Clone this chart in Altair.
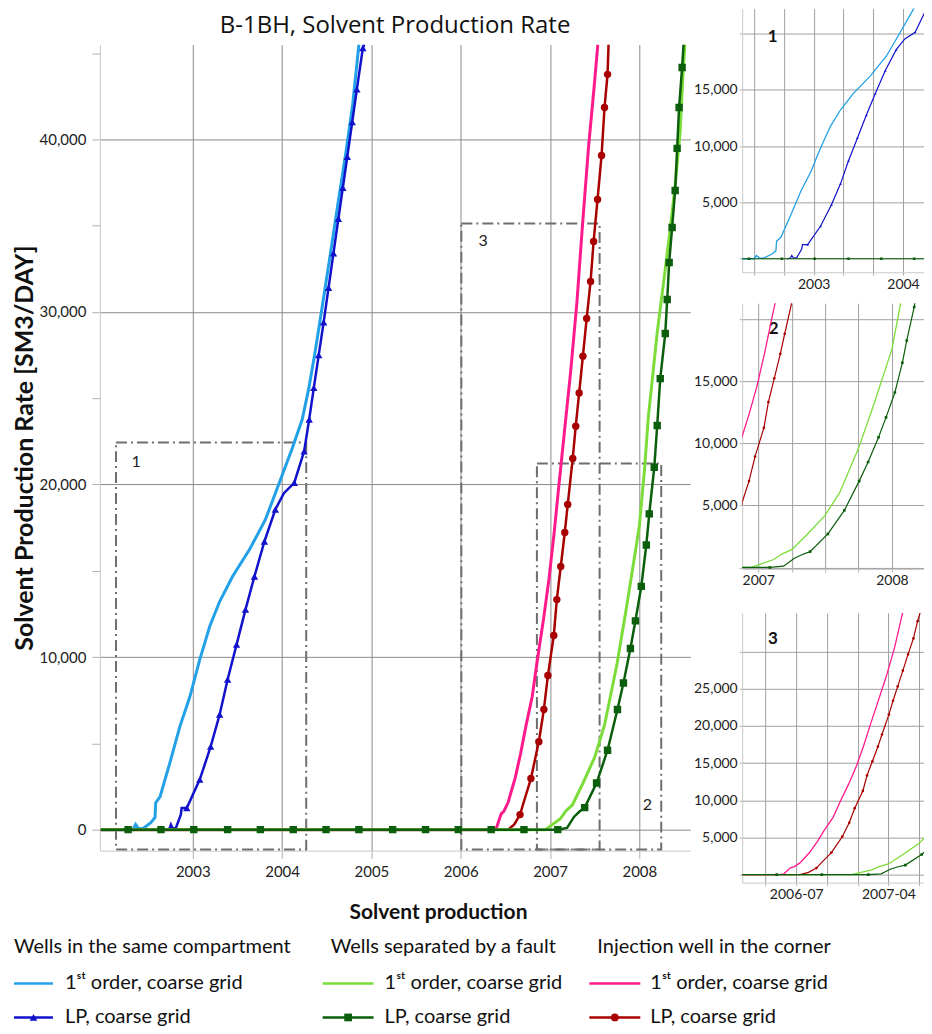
import altair as alt
import pandas as pd

# ---------------- data (time in fractional years, rate in SM3/DAY) ----------------
same_1st_t = [2001.97, 2002.33, 2002.36, 2002.39, 2002.44, 2002.53, 2002.577, 2002.585, 2002.633,
              2002.744, 2002.855, 2002.967, 2003.078, 2003.189, 2003.301, 2003.445, 2003.635,
              2003.813, 2003.969, 2004.114, 2004.225, 2004.30, 2004.37, 2004.44, 2004.53, 2004.62,
              2004.71, 2004.79, 2004.86]
same_1st_v = [0, 0, 300, 80, 60, 400, 700, 1560, 1900,
              3880, 5970, 7700, 9850, 11770, 13220, 14670, 16230,
              17970, 20100, 22100, 23770, 25600, 27700, 30000, 33000, 36100,
              39100, 42000, 45500]

same_lp_t = [2002.70, 2002.74, 2002.755, 2002.775, 2002.811, 2002.866, 2002.875, 2002.933, 2003.078,
             2003.200, 2003.301, 2003.390, 2003.490, 2003.590, 2003.690, 2003.802, 2003.924,
             2004.020, 2004.136, 2004.247, 2004.303, 2004.355, 2004.41, 2004.465, 2004.52,
             2004.575, 2004.63, 2004.68, 2004.73, 2004.785, 2004.837, 2004.904, 2004.92]
same_lp_v = [0, 60, 290, 60, 100, 870, 1250, 1250, 2900,
             4810, 6670, 8700, 10720, 12750, 14670, 16700, 18550,
             19500, 20100, 21930, 23770, 25600, 27500, 29400, 31400,
             33400, 35400, 37200, 39000, 41000, 42900, 45300, 45500]
same_lp_m = [0, 0, 0, 0, 0, 0, 0, 1, 1,
             1, 1, 1, 1, 1, 1, 1, 1,
             0, 1, 1, 1, 1, 1, 1, 1,
             1, 1, 1, 1, 1, 1, 1, 0]

fault_1st_t = [2001.97, 2006.95, 2007.0, 2007.116, 2007.18, 2007.25, 2007.36, 2007.5, 2007.61,
               2007.75, 2007.86, 2007.95, 2008.0, 2008.06, 2008.10, 2008.20, 2008.28, 2008.345,
               2008.40, 2008.456, 2008.49, 2008.51]
fault_1st_v = [0, 0, 200, 640, 1100, 1430, 2600, 4200, 6050,
               9600, 13000, 15950, 17600, 21000, 23880, 28800, 32060, 34780,
               37280, 40400, 43900, 45500]

fault_lp_t = [2001.97, 2002.276, 2002.644, 2003.011, 2003.390, 2003.757, 2004.125, 2004.492,
              2004.860, 2005.238, 2005.606, 2005.973, 2006.341, 2006.708, 2007.087,
              2007.19, 2007.27, 2007.33,
              2007.388, 2007.521, 2007.644, 2007.755, 2007.822, 2007.900, 2007.956, 2008.022,
              2008.078, 2008.111, 2008.167, 2008.200, 2008.234, 2008.290, 2008.312, 2008.334,
              2008.367, 2008.401, 2008.423, 2008.445, 2008.479, 2008.495]
fault_lp_v = [0, 0, 0, 0, 0, 0, 0, 0,
              0, 0, 0, 0, 0, 0, 0,
              100, 750, 1050,
              1275, 2700, 4600, 6960, 8500, 10500, 12100, 14100,
              16500, 18300, 21000, 23420, 26140, 28750, 30720, 32870,
              34900, 37040, 39480, 41850, 44170, 45500]
fault_lp_m = [0, 1, 1, 1, 1, 1, 1, 1,
              1, 1, 1, 1, 1, 1, 1,
              0, 0, 0,
              1, 1, 1, 1, 1, 1, 1, 1,
              1, 1, 1, 1, 1, 1, 1, 1,
              1, 1, 1, 1, 1, 0]

corner_1st_t = [2001.97, 2006.36, 2006.40, 2006.452, 2006.485, 2006.53, 2006.61, 2006.67, 2006.73,
                2006.80, 2006.86, 2006.93, 2006.99, 2007.05, 2007.10, 2007.16, 2007.23, 2007.30,
                2007.36, 2007.43, 2007.50, 2007.535]
corner_1st_v = [0, 0, 100, 900, 1080, 1570, 3000, 4400, 6000,
                7700, 9900, 12300, 14600, 17400, 20000, 23000, 26500, 30500,
                34800, 39500, 43400, 45500]

corner_lp_t = [2001.97, 2006.53, 2006.60, 2006.664, 2006.70, 2006.786, 2006.875, 2006.931, 2006.976,
               2007.042, 2007.076, 2007.120, 2007.165, 2007.198, 2007.254, 2007.288, 2007.326,
               2007.368, 2007.410, 2007.454, 2007.488, 2007.532, 2007.577, 2007.610, 2007.644, 2007.655]
corner_lp_v = [0, 0, 300, 870, 1500, 2960, 5100, 6960, 8930,
               11250, 13330, 15250, 17220, 18840, 21510, 23380, 25310,
               27440, 29620, 31770, 34090, 36520, 39070, 41850, 43770, 45500]
corner_lp_m = [0, 0, 0, 1, 0, 1, 1, 1, 1,
               1, 1, 1, 1, 1, 1, 1, 1,
               1, 1, 1, 1, 1, 1, 1, 1, 0]

box_id = ["1", "2", "3"]
box_x1 = [2002.14, 2006.853, 2006.007]
box_x2 = [2004.27, 2008.245, 2007.555]
box_y1 = [-1150, -1150, -1150]
box_y2 = [22430, 21220, 35130]
box_lab_x = [2002.365, 2008.09, 2006.25]
box_lab_y = [21330, 1450, 34090]

chart_title = "B-1BH, Solvent Production Rate"
x_title = "Solvent production"
legend_headers = ["Wells in the same compartment", "Wells separated by a fault", "Injection well in the corner"]
legend_items = ["1\u02e2\u1d57 order, coarse grid", "LP, coarse grid"]

# ---------------- styling ----------------
COL = {
    "same_1st": "#22A0E8", "same_lp": "#1212CC",
    "fault_1st": "#7CDD3A", "fault_lp": "#0B5E0B",
    "corner_1st": "#FF1A8C", "corner_lp": "#A80000",
}
SHAPE = {"same_lp": "triangle-up", "fault_lp": "square", "corner_lp": "circle"}
FONT = "Lato"


def sdf(name, t, v, m=None):
    return pd.DataFrame({"series": name, "t": t, "v": v, "m": m if m is not None else [0] * len(t)})


data = pd.concat([
    sdf("same_1st", same_1st_t, same_1st_v),
    sdf("same_lp", same_lp_t, same_lp_v, same_lp_m),
    sdf("corner_1st", corner_1st_t, corner_1st_v),
    sdf("corner_lp", corner_lp_t, corner_lp_v, corner_lp_m),
    sdf("fault_1st", fault_1st_t, fault_1st_v),
    sdf("fault_lp", fault_lp_t, fault_lp_v, fault_lp_m),
], ignore_index=True)
DRAW_ORDER = ["same_1st", "same_lp", "corner_1st", "corner_lp", "fault_1st", "fault_lp"]

boxes = pd.DataFrame({"id": box_id, "x1": box_x1, "x2": box_x2, "y1": box_y1, "y2": box_y2,
                      "lx": box_lab_x, "ly": box_lab_y})


def visible_part(xdom, ydom):
    """Keep the points inside a view window plus their direct neighbours."""
    parts = []
    for name, g in data.groupby("series", sort=False):
        g = g.sort_values("t")
        inside = g.t.between(*xdom) & g.v.between(*ydom)
        keep = inside | inside.shift(1, fill_value=False) | inside.shift(-1, fill_value=False)
        parts.append(g[keep])
    return pd.concat(parts, ignore_index=True)


def panel(df, xdom, ydom, w, h, xaxis, yaxis, lw1, lwlp, msize, extra=None):
    xs = alt.Scale(domain=xdom, nice=False, zero=False)
    ys = alt.Scale(domain=ydom, nice=False, zero=False)
    X = alt.X("t:Q", scale=xs, axis=xaxis)
    Y = alt.Y("v:Q", scale=ys, axis=yaxis)
    layers = []
    if extra is not None:
        layers += extra(xs, ys, xaxis, yaxis)
    base = alt.Chart(df)
    for name in DRAW_ORDER:
        is_lp = name in SHAPE
        layers.append(
            base.transform_filter(alt.datum.series == name)
            .mark_line(color=COL[name], strokeWidth=lwlp if is_lp else lw1, clip=True)
            .encode(x=X, y=Y)
        )
        if is_lp:
            layers.append(
                base.transform_filter((alt.datum.series == name) & (alt.datum.m == 1))
                .mark_point(shape=SHAPE[name], filled=True, color=COL[name], size=msize,
                            opacity=1, clip=True)
                .encode(x=X, y=Y)
            )
    return alt.layer(*layers).properties(width=w, height=h)


# ---------------- main chart ----------------
MW, MH = 591, 807
main_xaxis = alt.Axis(values=[2003, 2004, 2005, 2006, 2007, 2008], format="d", title=None,
                      labelFontSize=15, labelPadding=6, tickSize=8,
                      grid=True, gridColor="#8a8a8a", domainColor="#c8c8c8", tickColor="#b0b0b0",
                      labelColor="#222")
main_yaxis = alt.Axis(values=[0, 5000, 10000, 15000, 20000, 25000, 30000, 35000, 40000, 45000],
                      labelExpr="datum.value % 10000 === 0 ? format(datum.value, ',') : ''",
                      gridOpacity={"condition": {"test": "datum.value % 10000 === 0", "value": 1}, "value": 0},
                      title="Solvent Production Rate [SM3/DAY]", titleFontSize=25,
                      titleFontWeight="bold", titlePadding=2, labelFontSize=15, labelPadding=6,
                      tickSize=8, grid=True, gridColor="#8a8a8a", domainColor="#c8c8c8",
                      tickColor="#b0b0b0", labelColor="#222", titleColor="#111")


def main_boxes(xs, ys, xaxis, yaxis):
    rect = alt.Chart(boxes).mark_rect(fillOpacity=0, stroke="#6e6e6e", strokeWidth=2,
                                      strokeDash=[11, 4, 2, 4]).encode(
        x=alt.X("x1:Q", scale=xs, axis=xaxis), x2="x2:Q",
        y=alt.Y("y1:Q", scale=ys, axis=yaxis), y2="y2:Q")
    lab = alt.Chart(boxes).mark_text(font=FONT, fontSize=16, color="#222").encode(
        x=alt.X("lx:Q", scale=xs, axis=xaxis), y=alt.Y("ly:Q", scale=ys, axis=yaxis),
        text="id:N")
    return [rect, lab]


main = panel(data, [2001.96, 2008.57], [-1217, 45500], MW, MH, main_xaxis, main_yaxis,
             3, 2.5, 55, extra=main_boxes)

# title strip above the main plot
title_strip = alt.Chart(pd.DataFrame({"x": [0.5], "y": [0.5], "text": [chart_title]})).mark_text(
    font="Open Sans", fontSize=24, color="#111", baseline="middle").encode(
    x=alt.X("x:Q", scale=alt.Scale(domain=[0, 1]), axis=None),
    y=alt.Y("y:Q", scale=alt.Scale(domain=[0, 1]), axis=None),
    text="text:N").properties(width=MW, height=34)


# ---------------- insets ----------------
def inset_axes(xvals, xlabel_expr, yvals, ytop):
    xa = alt.Axis(values=xvals, labelExpr=xlabel_expr, title=None, labelFontSize=14,
                  labelPadding=2, tickSize=3, grid=True, gridColor="#a0a0a0",
                  domainColor="#c8c8c8", tickColor="#b0b0b0", labelColor="#222",
                  labelOverlap=False)
    ya = alt.Axis(values=yvals,
                  labelExpr=f"datum.value > 0 && datum.value < {ytop} ? format(datum.value, ',') : ''",
                  title=None, labelFontSize=14, labelPadding=2, tickSize=3, grid=True,
                  gridColor="#a0a0a0", domainColor="#c8c8c8", tickColor="#b0b0b0",
                  labelColor="#222")
    return xa, ya


def inset_tag(label, lx, ly):
    tag = pd.DataFrame({"t": [lx], "v": [ly], "txt": [label]})

    def f(xs, ys, xaxis, yaxis):
        return [alt.Chart(tag).mark_text(font=FONT, fontSize=17, fontWeight="bold", color="#111")
                .encode(x=alt.X("t:Q", scale=xs, axis=xaxis), y=alt.Y("v:Q", scale=ys, axis=yaxis),
                        text="txt:N")]
    return f


IW = 182
d1x, d1y = [2002.20, 2004.235], [-1200, 22200]
xa1, ya1 = inset_axes([2002.3333, 2002.6667, 2003, 2003.3333, 2003.6667, 2004],
                      "datum.value % 1 === 0 ? format(datum.value, 'd') : ''",
                      [0, 5000, 10000, 15000, 20000], 20000)
inset1 = panel(visible_part(d1x, d1y), d1x, d1y, IW, 264, xa1, ya1, 1.3, 1.2, 7,
               extra=inset_tag("1", 2002.54, 19650))

d2x, d2y = [2006.88, 2008.24], [-120, 21300]
xa2, ya2 = inset_axes([2007.0, 2007.25, 2007.5, 2007.75, 2008.0],
                      "datum.value % 1 === 0 ? format(datum.value, 'd') : ''",
                      [0, 5000, 10000, 15000, 20000], 20000)
inset2 = panel(visible_part(d2x, d2y), d2x, d2y, IW, 266, xa2, ya2, 1.3, 1.2, 7,
               extra=inset_tag("2", 2007.116, 19200))

d3x, d3y = [2006.06, 2007.54], [-1080, 35200]
xa3, ya3 = inset_axes([2006.25, 2006.5, 2006.75, 2007.0, 2007.25, 2007.5],
                      "datum.value === 2006.5 ? '2006-07' : (datum.value === 2007.25 ? '2007-04' : '')",
                      [0, 5000, 10000, 15000, 20000, 25000, 30000], 30000)
inset3 = panel(visible_part(d3x, d3y), d3x, d3y, IW, 270, xa3, ya3, 1.3, 1.2, 7,
               extra=inset_tag("3", 2006.31, 31700))

# ---------------- legend (x measured from the main plot's left edge) ----------------
LINE_START = [-86, 223, 490]
LINE_END = [-47, 274, 541]
HEAD_X = [-86, 231, 498]
TEXT_X = [-35, 285, 551]
XTITLE_POS = (339, 6)
ROW_Y = [40, 77, 111]
groups = [("same_1st", "same_lp"), ("fault_1st", "fault_lp"), ("corner_1st", "corner_lp")]

head_df = pd.DataFrame({"x": HEAD_X, "y": [ROW_Y[0]] * 3, "text": legend_headers})
xt_df = pd.DataFrame({"x": [XTITLE_POS[0]], "y": [XTITLE_POS[1]], "text": [x_title]})
rows = []
for i, (s1, s2) in enumerate(groups):
    for r, s in enumerate((s1, s2)):
        rows.append({"x1": LINE_START[i], "x2": LINE_END[i], "xm": (LINE_START[i] + LINE_END[i]) / 2,
                     "xt": TEXT_X[i], "y": ROW_Y[r + 1], "color": COL[s],
                     "shape": SHAPE.get(s, "circle"), "text": legend_items[r], "lp": r})
item_df = pd.DataFrame(rows)

LX = alt.Scale(domain=[0, MW], nice=False, zero=False)
LY = alt.Scale(domain=[0, 118], reverse=True, nice=False, zero=False)
leg_xt = alt.Chart(xt_df).mark_text(font=FONT, fontSize=21, fontWeight="bold", baseline="middle",
                                    color="#111").encode(
    x=alt.X("x:Q", scale=LX, axis=None), y=alt.Y("y:Q", scale=LY, axis=None), text="text:N")
leg_head = alt.Chart(head_df).mark_text(font=FONT, fontSize=20, align="left", baseline="middle",
                                        color="#111").encode(
    x=alt.X("x:Q", scale=LX, axis=None), y=alt.Y("y:Q", scale=LY, axis=None), text="text:N")
leg_line = alt.Chart(item_df).mark_rule(strokeWidth=2.5).encode(
    x=alt.X("x1:Q", scale=LX, axis=None), x2="x2:Q", y=alt.Y("y:Q", scale=LY, axis=None),
    color=alt.Color("color:N", scale=None))
leg_pt = alt.Chart(item_df).transform_filter(alt.datum.lp == 1).mark_point(
    filled=True, size=60, opacity=1).encode(
    x=alt.X("xm:Q", scale=LX, axis=None), y=alt.Y("y:Q", scale=LY, axis=None),
    color=alt.Color("color:N", scale=None), shape=alt.Shape("shape:N", scale=None))
leg_txt = alt.Chart(item_df).mark_text(font=FONT, fontSize=20, align="left", baseline="middle",
                                       color="#111").encode(
    x=alt.X("xt:Q", scale=LX, axis=None), y=alt.Y("y:Q", scale=LY, axis=None), text="text:N")
legend = alt.layer(leg_xt, leg_head, leg_line, leg_pt, leg_txt).properties(width=MW, height=118)

# ---------------- assemble ----------------
left = alt.vconcat(title_strip, main, spacing=2)
insets = alt.vconcat(alt.vconcat(inset1, inset2, spacing=12), inset3, spacing=25)
top = alt.hconcat(left, insets, spacing=3)
chart = alt.vconcat(top, legend, spacing=0).properties(
    padding={"left": 4, "top": 0, "right": 0, "bottom": 0}
).configure(font=FONT).configure_view(stroke=None)

chart.save("out.html", embed_options={"renderer": "svg", "actions": False})
